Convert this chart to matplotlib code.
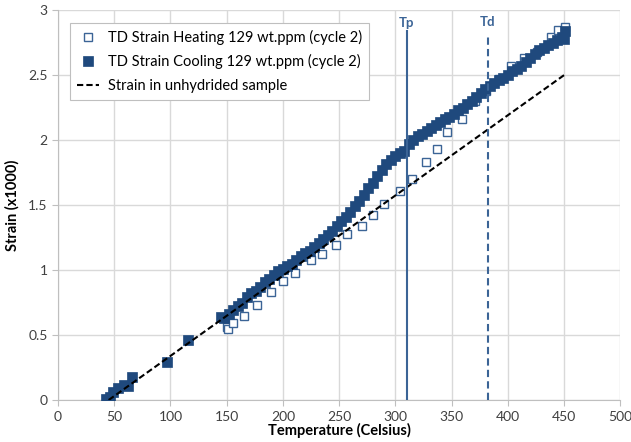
import numpy as np
import matplotlib
matplotlib.use("Agg")
import matplotlib.pyplot as plt

plt.rcParams['font.family'] = ['Lato', 'DejaVu Sans']

# cooling (filled squares)
cool_temp = [43, 46, 49, 53, 59, 62, 66, 97, 116, 145,
             148, 152, 156, 160, 164, 168, 172, 176, 180, 184, 188, 192, 196,
             200, 204, 208, 212, 216, 220, 224, 228, 232, 236, 240, 244, 248,
             252, 256, 260, 264, 268, 272, 276, 280, 284, 288, 292, 296, 300,
             304, 308, 312, 316, 320, 324, 328, 332, 336, 340, 344, 348, 352,
             356, 360, 364, 368, 372, 376, 380, 384, 388, 392, 396, 400, 404,
             408, 412, 416, 420, 424, 428, 432, 436, 440, 444, 448, 450, 451]
cool_strain = [0.005, 0.025, 0.06, 0.09, 0.115, 0.11, 0.175, 0.295, 0.46, 0.64,
               0.63, 0.66, 0.69, 0.72, 0.75, 0.79, 0.82, 0.84, 0.87, 0.91, 0.93, 0.96, 0.99,
               1.01, 1.03, 1.05, 1.08, 1.11, 1.13, 1.15, 1.18, 1.21, 1.24, 1.27, 1.30, 1.34,
               1.38, 1.41, 1.45, 1.49, 1.53, 1.58, 1.63, 1.67, 1.72, 1.77, 1.82, 1.85, 1.88,
               1.90, 1.92, 1.97, 2.00, 2.03, 2.05, 2.07, 2.09, 2.12, 2.14, 2.16, 2.18, 2.20,
               2.23, 2.25, 2.28, 2.30, 2.33, 2.36, 2.39, 2.42, 2.44, 2.46, 2.48, 2.50, 2.53,
               2.55, 2.57, 2.60, 2.63, 2.66, 2.69, 2.71, 2.73, 2.75, 2.77, 2.79, 2.78, 2.84]

# heating (open squares)
heat_temp = [150, 151, 156, 165, 177, 189, 200, 211, 225, 235, 247, 257, 270,
             280, 290, 304, 315, 327, 337, 346, 359, 371, 381, 392, 403, 414,
             426, 438, 445, 451]
heat_strain = [0.56, 0.55, 0.59, 0.645, 0.73, 0.83, 0.915, 0.975, 1.08, 1.12,
               1.19, 1.28, 1.34, 1.42, 1.505, 1.61, 1.70, 1.83, 1.93, 2.06, 2.16,
               2.30, 2.38, 2.47, 2.57, 2.63, 2.68, 2.79, 2.85, 2.87]

# unhydrided reference line
ref_temp = [45, 450]
ref_strain = [0, 2.5]

tp, td = 310, 382

dark = '#1f497d'
mid = '#3b6496'

fig = plt.figure(figsize=(6.31, 4.42), dpi=100)
ax = fig.add_axes([0.092, 0.095, 0.891, 0.882])

ax.plot(heat_temp, heat_strain, 's', ms=6, mfc='white', mec=mid, mew=1.0,
        label='TD Strain Heating 129 wt.ppm (cycle 2)', zorder=3)
ax.plot(cool_temp, cool_strain, 's', ms=7.5, mfc=dark, mec=dark, mew=0.5,
        label='TD Strain Cooling 129 wt.ppm (cycle 2)', zorder=4)
ax.plot(ref_temp, ref_strain, color='black', lw=1.5, dashes=(3, 1.5),
        label='Strain in unhydrided sample', zorder=5)

ax.plot([tp, tp], [0, 2.84], color=mid, lw=1.5, zorder=6)
ax.plot([td, td], [0, 2.82], color=mid, lw=1.5, dashes=(3.5, 2), zorder=6)
ax.text(tp, 2.9, 'Tp', color=mid, fontsize=9.5, fontweight='bold', ha='center', va='center')
ax.text(td, 2.91, 'Td', color=mid, fontsize=9.5, fontweight='bold', ha='center', va='center')

ax.set_xlim(0, 500)
ax.set_ylim(0, 3)
ax.set_xticks(np.arange(0, 501, 50))
ax.set_yticks([0, 0.5, 1, 1.5, 2, 2.5, 3])
ax.set_yticklabels(['0', '0.5', '1', '1.5', '2', '2.5', '3'])
ax.grid(True, color='#d9d9d9', lw=1)
ax.set_axisbelow(True)
for s in ['top', 'right']:
    ax.spines[s].set_visible(False)
for s in ['left', 'bottom']:
    ax.spines[s].set_color('#bfbfbf')
ax.tick_params(colors='#bfbfbf', labelcolor='#404040', labelsize=10, length=4)
ax.tick_params(axis='x', pad=4)

ax.set_xlabel('Temperature (Celsius)', fontsize=10.5, fontweight='bold', labelpad=0)
ax.set_ylabel('Strain (x1000)', fontsize=10.5, fontweight='bold', labelpad=6)

leg = ax.legend(loc='upper left', bbox_to_anchor=(0.008, 0.987), fontsize=10.5,
                fancybox=False, framealpha=1, edgecolor='#bfbfbf',
                handlelength=1.5, handletextpad=0.6, borderpad=0.5, labelspacing=0.65)
leg.get_frame().set_linewidth(0.8)

fig.savefig('out.png', dpi=100)
